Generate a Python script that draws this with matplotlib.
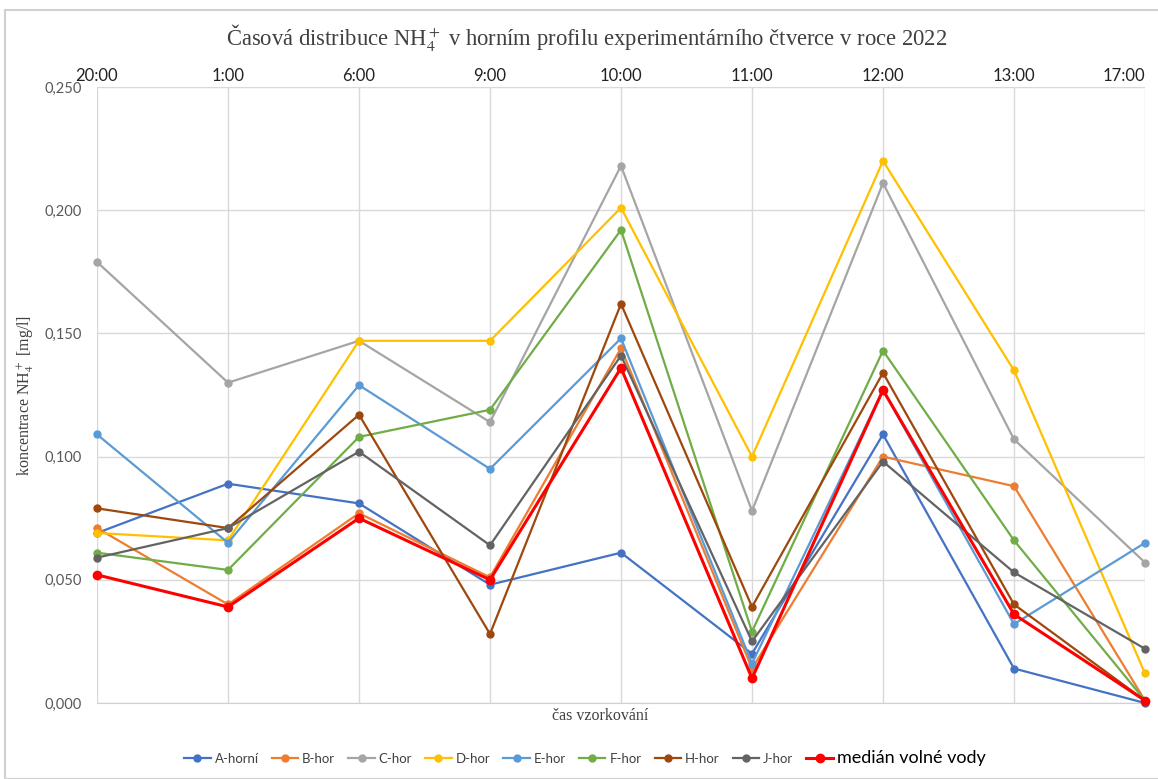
import matplotlib.pyplot as plt
from matplotlib.patches import Rectangle
from matplotlib.ticker import FuncFormatter

plt.rcParams['mathtext.fontset'] = 'stix'

times = ["20:00", "1:00", "6:00", "9:00", "10:00", "11:00", "12:00", "13:00", "17:00"]

a_horni = [0.069, 0.089, 0.081, 0.048, 0.061, 0.020, 0.109, 0.014, 0.000]
b_hor = [0.071, 0.040, 0.077, 0.051, 0.144, 0.014, 0.100, 0.088, 0.001]
c_hor = [0.179, 0.130, 0.147, 0.114, 0.218, 0.078, 0.211, 0.107, 0.057]
d_hor = [0.069, 0.066, 0.147, 0.147, 0.201, 0.100, 0.220, 0.135, 0.012]
e_hor = [0.109, 0.065, 0.129, 0.095, 0.148, 0.016, 0.127, 0.032, 0.065]
f_hor = [0.061, 0.054, 0.108, 0.119, 0.192, 0.029, 0.143, 0.066, 0.001]
h_hor = [0.079, 0.071, 0.117, 0.028, 0.162, 0.039, 0.134, 0.040, 0.001]
j_hor = [0.059, 0.071, 0.102, 0.064, 0.141, 0.025, 0.098, 0.053, 0.022]
median = [0.052, 0.039, 0.075, 0.050, 0.136, 0.010, 0.127, 0.036, 0.001]

series = [
    ("A-horní", a_horni, "#4472C4"),
    ("B-hor", b_hor, "#ED7D31"),
    ("C-hor", c_hor, "#A5A5A5"),
    ("D-hor", d_hor, "#FFC000"),
    ("E-hor", e_hor, "#5B9BD5"),
    ("F-hor", f_hor, "#70AD47"),
    ("H-hor", h_hor, "#9E480E"),
    ("J-hor", j_hor, "#636363"),
]

fig = plt.figure(figsize=(11.58, 7.79), dpi=100)
ax = fig.add_axes([97 / 1158, 76 / 779, 1048 / 1158, 616 / 779])

x = list(range(len(times)))
handles = []
for name, vals, col in series:
    h, = ax.plot(x, vals, color=col, linewidth=1.6, marker='o', markersize=5,
                 label=name, clip_on=False, zorder=3)
    handles.append(h)
h, = ax.plot(x, median, color="#FF0000", linewidth=2.2, marker='o', markersize=6,
             label="medián volné vody", clip_on=False, zorder=4)
handles.append(h)

ax.set_xlim(0, len(times) - 1)
ax.set_ylim(0, 0.25)
ax.set_yticks([0, 0.05, 0.1, 0.15, 0.2, 0.25])
ax.yaxis.set_major_formatter(FuncFormatter(lambda v, p: f"{v:.3f}".replace('.', ',')))
ax.set_xticks(x)
ax.set_xticklabels(times)
ax.xaxis.tick_top()
ax.tick_params(axis='x', length=0, pad=2, labelsize=12, labelcolor='#222222')
ax.tick_params(axis='y', length=0, pad=11, labelsize=10.5, labelcolor='#595959')
for lab in ax.get_xticklabels() + ax.get_yticklabels():
    lab.set_family('Lato')
# last top label sits at the right edge, nudge it left like the original
ax.get_xticklabels()[-1].set_horizontalalignment('right')
ax.get_xticklabels()[-1].set_x(len(times) - 1 + 0.1)

ax.grid(True, color='#D9D9D9', linewidth=1)
for s in ['top', 'right', 'left']:
    ax.spines[s].set_visible(False)
ax.spines['bottom'].set_color('#D0D0D0')

ax.set_ylabel("koncentrace NH$_4^+$ [mg/l]", family='Liberation Serif',
              fontsize=11.5, color='#404040')
ax.yaxis.set_label_coords(-0.058, 0.5)
fig.text(0.518, 0.081, "čas vzorkování", family='Liberation Serif',
         fontsize=11.5, color='#404040', ha='center', va='center')

fig.text(0.507, 0.952, "Časová distribuce NH$_4^+$ v horním profilu experimentárního čtverce v roce 2022",
         family='Liberation Serif', fontsize=16.3, color='#404040', ha='center', va='center')

leg = fig.legend(handles=handles, loc='center', bbox_to_anchor=(0.505, 0.027), ncol=9,
                 frameon=False, handlelength=2.0, columnspacing=1.0,
                 handletextpad=0.3, prop={'family': 'Lato', 'size': 9.5})
texts = leg.get_texts()
for t in texts:
    t.set_color('#404040')
texts[-1].set_fontsize(13)
texts[-1].set_color('#000000')

fig.add_artist(Rectangle((5 / 1158, 0), 1.0, 1 - 10 / 779, transform=fig.transFigure,
                         fill=False, edgecolor='#D0D0D0', linewidth=1.5))

fig.savefig("out.png", dpi=100)
